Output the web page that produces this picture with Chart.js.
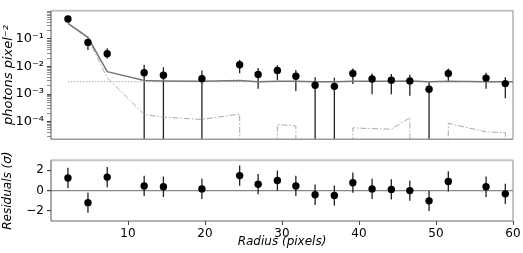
<!DOCTYPE html>
<html>
<head>
<meta charset="utf-8">
<script src="https://cdn.jsdelivr.net/npm/chart.js@4"></script>
<style>
  body { margin: 0; background: #fff; }
  #wrap { position: relative; width: 523px; height: 253px; }
  #topBox { position: absolute; left: 0; top: 0; width: 523px; height: 150px; }
  #botBox { position: absolute; left: 0; top: 150px; width: 523px; height: 103px; }
</style>
</head>
<body>
<div id="wrap">
  <div id="topBox"><canvas id="profileChart" width="523" height="150"></canvas></div>
  <div id="botBox"><canvas id="residChart" width="523" height="103"></canvas></div>
</div>
<script>
// radial profile
const radius = [2.2, 4.8, 7.3, 12.1, 14.6, 19.6, 24.5, 26.9, 29.4, 31.8, 34.3, 36.8, 39.2, 41.7, 44.2, 46.6, 49.1, 51.6, 56.5, 59.0];
const flux = [0.53, 0.075, 0.029, 0.0059, 0.0048, 0.0036, 0.0115, 0.0051, 0.0072, 0.0044, 0.0021, 0.0019, 0.0056, 0.0035, 0.0032, 0.0030, 0.0015, 0.0056, 0.0038, 0.0024];
const fluxHigh = [0.56, 0.088, 0.046, 0.0115, 0.0094, 0.0071, 0.0175, 0.0089, 0.0112, 0.0074, 0.0041, 0.0039, 0.0085, 0.0056, 0.0053, 0.0050, 0.0028, 0.0085, 0.0059, 0.0041];
// 0 = lower end below zero (runs off the log axis)
const fluxLow = [0.50, 0.040, 0.0195, 0, 0, 0, 0.0057, 0.00155, 0.0032, 0.0013, 0, 0, 0.0023, 0.00098, 0.00098, 0.00087, 0, 0.0028, 0.00155, 0.0007];

const modelRadius = [2.2, 4.8, 7.3, 12.1, 14.6, 19.6, 24.5, 26.9, 29.4, 31.8, 34.3, 36.8, 39.2, 41.7, 44.2, 46.6, 49.1, 51.6, 56.5, 59.0, 61.4];
const modelFlux = [0.37, 0.115, 0.0065, 0.0031, 0.0030, 0.0029, 0.0031, 0.0028, 0.0029, 0.0029, 0.0028, 0.0028, 0.0029, 0.0029, 0.0029, 0.0030, 0.0028, 0.0029, 0.0028, 0.0028, 0.0028];
const psfFlux = [0.37, 0.105, 0.0039, 1.8e-4, 1.45e-4, 1.2e-4, 1.9e-4, 0, 7.9e-5, 6.9e-5, 0, 0, 5.9e-5, 5.6e-5, 5.3e-5, 1.4e-4, 0, 8.7e-5, 4.2e-5, 4.0e-5, 0];
const skyRadius = [2.2, 61.4];
const skyFlux = [0.0028, 0.0028];

const residual = [1.25, -1.19, 1.33, 0.46, 0.38, 0.17, 1.48, 0.63, 0.99, 0.46, -0.41, -0.49, 0.78, 0.17, 0.12, 0.0, -1.01, 0.9, 0.38, -0.32];
const residualErr = [1.0, 1.0, 1.0, 1.0, 1.0, 1.0, 1.0, 1.0, 1.0, 1.0, 1.0, 1.0, 1.0, 1.0, 1.0, 1.0, 1.0, 1.0, 1.0, 1.0];

const logTicks = [1e-4, 1e-3, 1e-2, 1e-1];
const logTickLabels = ['10⁻⁴', '10⁻³', '10⁻²', '10⁻¹'];
const radiusTicks = [10, 20, 30, 40, 50, 60];
const residTicks = [-2, 0, 2];

const FONT = 'DejaVu Sans';
const FLOOR = 1e-200; // matplotlib clips non-positive values far below the axis

function toPoints(xs, ys, log) {
  return xs.map((x, i) => ({ x: x, y: (log && ys[i] <= 0) ? FLOOR : ys[i] }));
}

function errorBars(xs, lows, highs) {
  return {
    id: 'errorBars',
    beforeDatasetsDraw(chart) {
      const { ctx, chartArea: a } = chart;
      const sx = chart.scales.x, sy = chart.scales.y;
      ctx.save();
      ctx.beginPath();
      ctx.rect(a.left, a.top, a.right - a.left, a.bottom - a.top);
      ctx.clip();
      ctx.strokeStyle = '#222';
      ctx.lineWidth = 1.3;
      xs.forEach((r, i) => {
        const px = sx.getPixelForValue(r);
        const top = sy.getPixelForValue(highs[i]);
        const bot = (sy.type === 'logarithmic' && lows[i] <= 0) ? a.bottom : sy.getPixelForValue(lows[i]);
        ctx.beginPath();
        ctx.moveTo(px, top);
        ctx.lineTo(px, bot);
        ctx.stroke();
      });
      ctx.restore();
    }
  };
}

function frame(sides) {
  return {
    id: 'frame',
    afterDatasetsDraw(chart) {
      const { ctx, chartArea: a } = chart;
      const seg = (c, x1, y1, x2, y2) => {
        ctx.strokeStyle = c[0];
        ctx.lineWidth = c[1];
        ctx.beginPath();
        ctx.moveTo(x1, y1);
        ctx.lineTo(x2, y2);
        ctx.stroke();
      };
      ctx.save();
      seg(sides.top, a.left, a.top, a.right, a.top);
      seg(sides.bottom, a.left, a.bottom, a.right, a.bottom);
      seg(sides.left, a.left, a.top, a.left, a.bottom);
      seg(sides.right, a.right, a.top, a.right, a.bottom);
      ctx.restore();
    }
  };
}

Chart.defaults.font.family = FONT;
Chart.defaults.color = '#000';

const residLow = residual.map((v, i) => v - residualErr[i]);
const residHigh = residual.map((v, i) => v + residualErr[i]);

new Chart(document.getElementById('profileChart'), {
  type: 'line',
  data: {
    datasets: [
      { label: 'data', data: toPoints(radius, flux, true), showLine: false,
        pointRadius: 3.7, pointBackgroundColor: '#000', pointBorderWidth: 0, order: 0 },
      { label: 'model', data: toPoints(modelRadius, modelFlux, true), borderColor: '#777',
        borderWidth: 1.5, pointRadius: 0, tension: 0, order: 1 },
      { label: 'psf', data: toPoints(modelRadius, psfFlux, true), borderColor: '#aaa',
        borderWidth: 1, borderDash: [6, 2, 1.5, 2], pointRadius: 0, tension: 0, order: 2 },
      { label: 'sky', data: toPoints(skyRadius, skyFlux, true), borderColor: '#aaa',
        borderWidth: 1, borderDash: [1.5, 1.5], pointRadius: 0, tension: 0, order: 3 }
    ]
  },
  options: {
    responsive: false,
    animation: false,
    events: [],
    layout: { padding: { top: 10, right: 10, left: 0, bottom: 0 } },
    plugins: { legend: { display: false }, tooltip: { enabled: false } },
    scales: {
      x: {
        type: 'linear', min: 0, max: 60,
        grid: { display: false }, border: { display: false },
        ticks: { display: false },
        afterFit: s => { s.height = 3; }
      },
      y: {
        type: 'logarithmic', min: 2.3e-5, max: 1.05,
        border: { display: false },
        grid: {
          drawOnChartArea: false, tickLength: 4, tickColor: '#444',
          tickWidth: c => (c.tick && logTicks.some(t => Math.abs(t - c.tick.value) / t < 1e-6)) ? 1 : 0.6
        },
        afterBuildTicks: s => {
          const t = [];
          for (let e = -5; e <= 0; e++) {
            for (let m = 1; m <= 9; m++) {
              const v = m * Math.pow(10, e);
              if (v >= s.min && v <= s.max) t.push({ value: v });
            }
          }
          s.ticks = t;
        },
        ticks: {
          autoSkip: false, padding: 3, font: { size: 13 },
          callback: v => {
            const i = logTicks.findIndex(t => Math.abs(t - v) / t < 1e-6);
            return i >= 0 ? logTickLabels[i] : '';
          }
        },
        title: { display: true, text: 'photons pixel⁻²', font: { size: 13, style: 'italic' }, padding: { top: 1, bottom: 0 } },
        afterFit: s => { s.width = 51; }
      }
    }
  },
  plugins: [errorBars(radius, fluxLow, fluxHigh),
            frame({ top: ['#c4c4c4', 2], bottom: ['#9a9a9a', 1.5], left: ['#555', 1], right: ['#888', 1] })]
});

new Chart(document.getElementById('residChart'), {
  type: 'line',
  data: {
    datasets: [
      { label: 'residuals', data: toPoints(radius, residual, false), showLine: false,
        pointRadius: 3.7, pointBackgroundColor: '#000', pointBorderWidth: 0 }
    ]
  },
  options: {
    responsive: false,
    animation: false,
    events: [],
    layout: { padding: { top: 3, right: 10, left: 0, bottom: 0 } },
    plugins: { legend: { display: false }, tooltip: { enabled: false } },
    scales: {
      x: {
        type: 'linear', min: 0, max: 60,
        border: { display: false },
        grid: { drawOnChartArea: false, tickLength: 4, tickColor: '#444' },
        afterBuildTicks: s => { s.ticks = radiusTicks.map(v => ({ value: v })); },
        ticks: { font: { size: 12 }, padding: 2, maxRotation: 0, autoSkip: false },
        title: { display: true, text: 'Radius (pixels)', font: { size: 12, style: 'italic' }, padding: { top: 0, bottom: 4 } },
        afterFit: s => { s.height = 32; }
      },
      y: {
        type: 'linear', min: -3, max: 3,
        border: { display: false },
        grid: {
          color: c => (c.tick && c.tick.value === 0) ? '#888' : 'rgba(0,0,0,0)',
          lineWidth: 1.2, tickLength: 4, tickColor: '#444'
        },
        afterBuildTicks: s => { s.ticks = residTicks.map(v => ({ value: v })); },
        ticks: {
          font: { size: 12 }, padding: 3, autoSkip: false,
          callback: v => v < 0 ? '−' + Math.abs(v) : String(v)
        },
        title: { display: true, text: 'Residuals (σ)', font: { size: 12, style: 'italic' }, padding: { top: 1, bottom: 0 } },
        afterFit: s => { s.width = 51; }
      }
    }
  },
  plugins: [errorBars(radius, residLow, residHigh),
            frame({ top: ['#c4c4c4', 2], bottom: ['#666', 1], left: ['#555', 1], right: ['#888', 1] })]
});
</script>
</body>
</html>
